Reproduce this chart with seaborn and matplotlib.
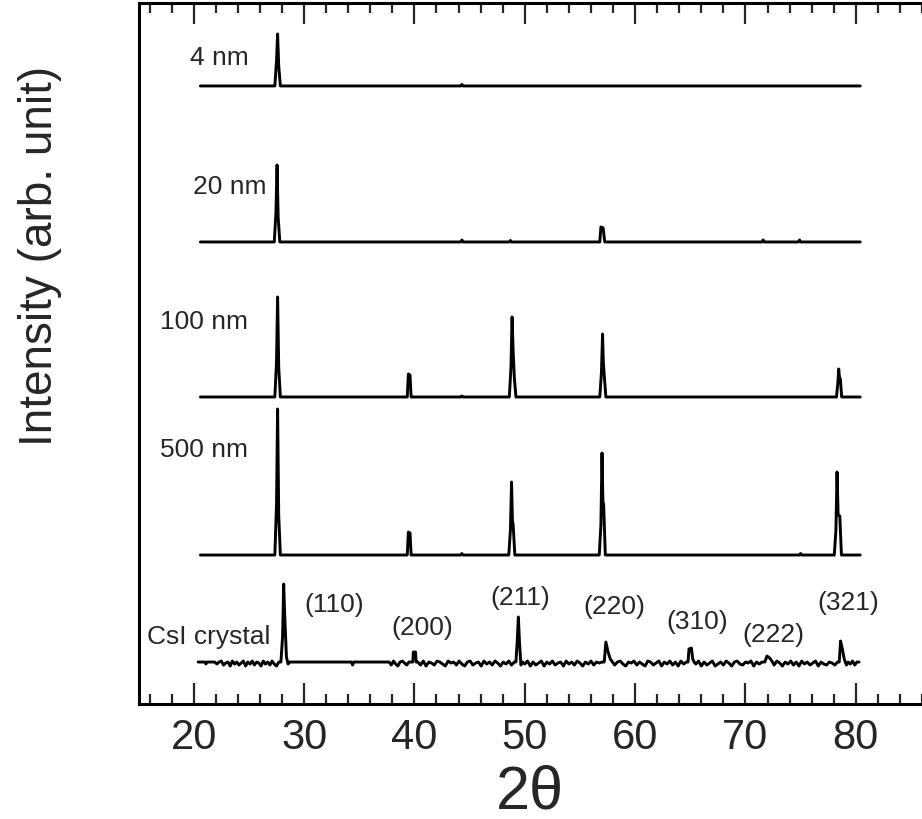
import seaborn as sns
sns.set_theme(style="ticks", rc={"axes.facecolor": "white", "figure.facecolor": "white"})
import matplotlib.pyplot as plt
from matplotlib.ticker import MultipleLocator
import pandas as pd

plt.rcParams["font.family"] = ["Liberation Sans", "DejaVu Sans"]

# patterns, top to bottom
names = ["4 nm", "20 nm", "100 nm", "500 nm", "CsI crystal"]
offsets = [618, 462, 307, 149, 42]

x_4nm = [20.6, 27.35, 27.5, 27.6, 27.7, 27.85, 44.2, 44.3, 44.4, 80.4]
y_4nm = [0, 0, 25, 52, 20, 0, 0, 1.5, 0, 0]

x_20nm = [20.6, 27.3, 27.45, 27.55, 27.65, 27.8, 44.2, 44.3, 44.4, 48.6, 48.7, 48.8,
          56.8, 56.9, 57.1, 57.25, 71.5, 71.6, 71.7, 74.8, 74.9, 75.0, 80.4]
y_20nm = [0, 0, 30, 77, 25, 0, 0, 2, 0, 0, 1.5, 0,
          0, 15, 14, 0, 0, 2, 0, 0, 2, 0, 0]

x_100nm = [20.6, 27.35, 27.5, 27.6, 27.7, 27.85, 39.35, 39.45, 39.6, 39.7, 44.2, 44.3, 44.4,
           48.6, 48.75, 48.85, 48.95, 49.05, 49.2, 56.8, 56.95, 57.05, 57.12, 57.2, 57.35,
           78.25, 78.38, 78.45, 78.52, 78.6, 78.72, 80.4]
y_100nm = [0, 0, 35, 100, 30, 0, 0, 23, 22, 0, 0, 1, 0,
           0, 30, 80, 45, 20, 0, 0, 25, 63, 35, 22, 0,
           0, 15, 28, 20, 18, 0, 0]

x_500nm = [20.6, 27.35, 27.5, 27.6, 27.7, 27.85, 39.35, 39.45, 39.6, 39.7, 44.2, 44.3, 44.4,
           48.55, 48.7, 48.8, 48.88, 48.95, 49.1, 56.75, 56.9, 57.0, 57.08, 57.15, 57.3,
           74.9, 75.0, 75.1, 78.05, 78.2, 78.3, 78.4, 78.55, 78.7, 80.4]
y_500nm = [0, 0, 50, 146, 40, 0, 0, 23, 22, 0, 0, 1.5, 0,
           0, 25, 73, 35, 30, 0, 0, 30, 102, 54, 50, 0,
           0, 1.5, 0, 0, 25, 83, 40, 39, 0, 0]

x_csi = [20.4, 21.0, 21.1, 21.2, 21.9,
         22.1, 22.3, 22.5, 22.7, 22.9, 23.1, 23.3, 23.5, 23.7, 23.9,
         24.1, 24.3, 24.5, 24.7, 24.9, 25.1, 25.3, 25.5, 25.7, 25.9,
         26.1, 26.3, 26.5, 26.7, 26.9, 27.1, 27.3, 27.5, 27.7,
         27.9, 28.05, 28.15, 28.25, 28.4, 28.55, 28.7,
         34.3, 34.4, 34.5,
         37.7, 37.9, 38.1, 38.3, 38.5, 38.7, 38.9, 39.1, 39.3, 39.5, 39.7,
         39.85, 39.9, 40.1, 40.15,
         40.3, 40.55, 40.8, 41.05, 41.3, 41.55, 41.8, 42.05, 42.3, 42.55,
         42.8, 43.05, 43.3, 43.55, 43.8, 44.05, 44.3, 44.55, 44.8, 45.05,
         45.3, 45.55, 45.8, 46.05, 46.3, 46.55, 46.8, 47.05, 47.3, 47.55,
         47.8, 48.05, 48.3, 48.55, 48.8, 49.05,
         49.2, 49.32, 49.42, 49.52, 49.65, 49.8,
         50.0, 50.25, 50.5, 50.75, 51.0, 51.25, 51.5, 51.75, 52.0, 52.25,
         52.5, 52.75, 53.0, 53.25, 53.5, 53.75, 54.0, 54.25, 54.5, 54.75,
         55.0, 55.25, 55.5, 55.75, 56.0, 56.25, 56.5, 56.75, 57.0,
         57.2, 57.35, 57.55, 57.75, 57.95,
         58.15, 58.4, 58.65, 58.9, 59.15, 59.4, 59.65, 59.9, 60.15, 60.4,
         60.65, 60.9, 61.15, 61.4, 61.65, 61.9, 62.15, 62.4, 62.65, 62.9,
         63.15, 63.4, 63.65, 63.9, 64.15, 64.4, 64.65,
         64.8, 64.88, 65.1, 65.22, 65.35,
         65.5, 65.75, 66.0, 66.25, 66.5, 66.75, 67.0, 67.25, 67.5, 67.75,
         68.0, 68.25, 68.5, 68.75, 69.0, 69.25, 69.5, 69.75, 70.0, 70.25,
         70.5, 70.75, 71.0, 71.25, 71.5,
         71.75, 71.95, 72.2, 72.45,
         72.6, 72.85, 73.1, 73.35, 73.6, 73.85, 74.1, 74.35, 74.6, 74.85,
         75.1, 75.35, 75.6, 75.85, 76.1, 76.35, 76.6, 76.85, 77.1, 77.35,
         77.6, 77.85, 78.1, 78.35,
         78.5, 78.62, 78.8, 78.95, 79.15, 79.3,
         79.5, 79.7, 79.9, 80.1, 80.3]
y_csi = [0, 0, -2, 0, 0,
         -2, 0, 1, -3, -1, 0, -4, 1, -2, 0,
         -3, -1, 1, -4, 0, -2, 1, -3, 0, -1,
         -4, 1, -2, 0, -3, 1, -2, -4, 0,
         0, 25, 78, 45, 5, -2, 0,
         0, -3, 0,
         0, -3, 1, -2, -4, 0, 1, -1, -3, 0, 0,
         0, 10, 10, 0,
         0, -3, 1, -4, 0, -1, -3, 1, 0, -2,
         -4, 1, -1, 0, -3, 1, -2, -4, 0, 1,
         -3, -1, 0, -4, 1, -2, 0, -3, 1, -1,
         -4, 0, -2, 1, -3, 0,
         0, 22, 45, 20, -3, 0,
         -2, 1, -4, 0, -3, -1, 1, -4, 0, -2,
         1, -3, -1, 0, -4, 1, -2, 0, -3, 1,
         -1, -4, 0, -2, 1, -3, 0, -1, 0,
         0, 20, 10, 3, 0,
         -3, 0, 1, -2, -4, 0, -1, 1, -3, 0,
         -2, -4, 1, 0, -3, -1, 1, -4, 0, -2,
         1, -3, 0, -4, 1, -2, 0,
         0, 13, 14, 3, 0,
         -2, 1, -4, 0, -3, -1, 1, -4, -2, 0,
         -3, 1, -1, -4, 0, 1, -2, -3, 0, -1,
         1, -4, 0, -2, 0,
         0, 6, 4, 0,
         -3, 1, -1, -4, 0, -2, 1, -3, 0, -4,
         1, -2, 0, -3, -1, 1, -4, 0, -2, -3,
         0, -1, -3, 0,
         0, 21, 12, 3, -3, 0,
         -2, 1, -3, 0, 0]

xs = [x_4nm, x_20nm, x_100nm, x_500nm, x_csi]
ys = [y_4nm, y_20nm, y_100nm, y_500nm, y_csi]

# peak labels of the crystal
hkl = ["(110)", "(200)", "(211)", "(220)", "(310)", "(222)", "(321)"]
hkl_x = [32.7, 40.7, 49.6, 58.1, 65.6, 72.5, 79.3]
hkl_y = [100, 77, 107, 98, 83, 70, 102]

# sample label positions
name_x = [19.65, 19.9, 16.9, 16.9, 15.75]
name_y = [647, 518, 383, 255, 68]

fig = plt.figure(figsize=(9.22, 8.2), dpi=100)
ax = fig.add_axes([0.1503, 0.1402, 0.8497, 0.855])

for name, x, y, off in zip(names, xs, ys, offsets):
    df = pd.DataFrame({"two_theta": x, "intensity": [v + off for v in y]})
    sns.lineplot(x="two_theta", y="intensity", data=df, ax=ax, sort=False,
                 color="black", linewidth=2.1, estimator=None)

for name, tx, ty in zip(names, name_x, name_y):
    ax.text(tx, ty, name, fontsize=19, ha="left", va="center")

for lab, tx, ty in zip(hkl, hkl_x, hkl_y):
    ax.text(tx, ty, lab, fontsize=19, ha="center", va="center")

ax.set_xlim(15, 86)
ax.set_ylim(0, 701)
ax.set_xticks(range(20, 81, 10))
ax.xaxis.set_minor_locator(MultipleLocator(2))
ax.set_yticks([])
ax.tick_params(axis="x", which="both", direction="in", top=True, bottom=True,
               labelsize=30, width=1.6, pad=9)
ax.tick_params(axis="x", which="major", length=15)
ax.tick_params(axis="x", which="minor", length=7.5)
for s in ["left", "bottom", "top"]:
    ax.spines[s].set_linewidth(2.2)
    ax.spines[s].set_color("black")
ax.spines["right"].set_visible(False)

ax.set_xlabel("2θ", fontsize=44, labelpad=5)
ax.set_ylabel("Intensity (arb. unit)", fontsize=33)
ax.yaxis.set_label_coords(-0.098, 0.64)

fig.savefig("out.png", dpi=100)
